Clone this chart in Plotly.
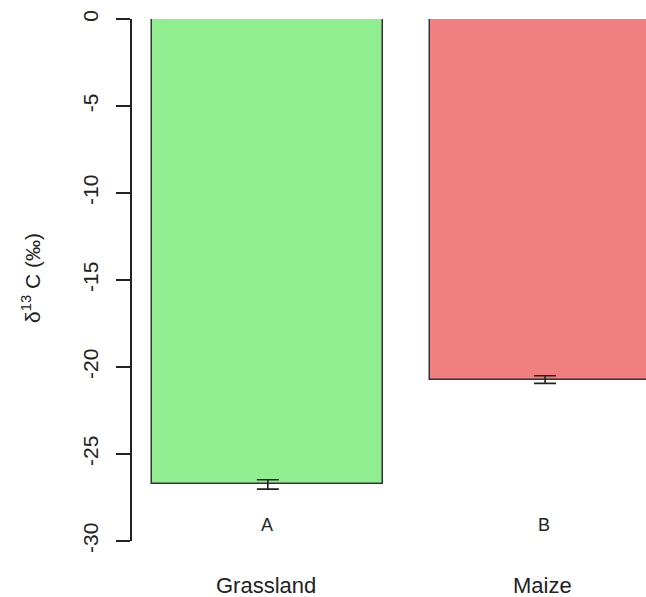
import plotly.graph_objects as go

# Mean δ13C per land use, with standard error
categories = ["Grassland", "Maize"]
means = [-26.75, -20.72]
errors = [0.27, 0.22]
letters = ["A", "B"]
bar_colors = ["#90EE90", "#F08080"]
positions = [0.7, 1.9]
y_ticks = [0, -5, -10, -15, -20, -25, -30]

font_family = "Liberation Sans, Arial, sans-serif"
ink = "#222222"

fig = go.Figure()
fig.add_trace(go.Bar(
    x=positions,
    y=means,
    width=1.0,
    marker=dict(color=bar_colors, line=dict(color="#333333", width=1.5)),
    error_y=dict(type="data", array=errors, visible=True,
                 color=ink, thickness=1.6, width=11),
    showlegend=False,
))

# significance letters under each bar
for x, letter in zip(positions, letters):
    fig.add_annotation(x=x - 0.005, y=-29.1, xref="x", yref="y", text=letter,
                       showarrow=False, font=dict(size=18, color=ink, family=font_family),
                       xanchor="center", yanchor="middle")

# category names below the plot
for x, name in zip(positions, categories):
    fig.add_annotation(x=x - 0.01, y=-0.0843, xref="x", yref="paper", text=name,
                       showarrow=False, font=dict(size=22, color=ink, family=font_family),
                       xanchor="center", yanchor="middle")

# y-axis title
fig.add_annotation(x=-0.1965, y=0.504, xref="paper", yref="paper",
                   text="δ<sup>13</sup> C (‰)", textangle=-90, showarrow=False,
                   font=dict(size=21, color=ink, family=font_family),
                   xanchor="center", yanchor="middle")

fig.update_layout(
    width=646, height=597,
    margin=dict(l=132, r=0, t=19, b=56),
    plot_bgcolor="white", paper_bgcolor="white",
    font=dict(family=font_family, color=ink),
    bargap=0,
)
fig.update_xaxes(range=[0.112, 2.337], showgrid=False, zeroline=False,
                 showline=False, showticklabels=False, ticks="")
fig.update_yaxes(range=[-30, 0], tickvals=y_ticks, ticktext=[str(v) for v in y_ticks],
                 tickangle=-90, ticks="outside", ticklen=14, tickwidth=1.5,
                 tickcolor=ink, showline=True, linecolor=ink, linewidth=1.5,
                 showgrid=False, zeroline=False, ticklabelstandoff=10,
                 tickfont=dict(size=21, color=ink, family=font_family))

fig.write_html("out.html")
